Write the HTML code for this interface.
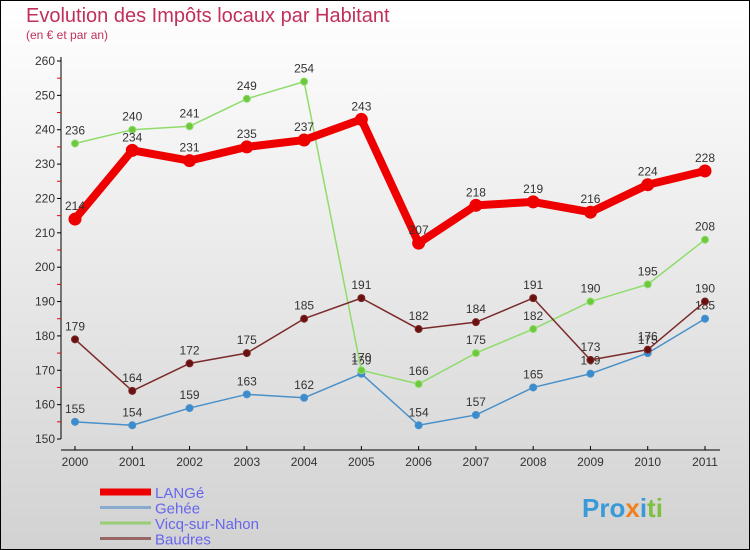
<!DOCTYPE html>
<html><head><meta charset="utf-8"><style>
body{margin:0;width:750px;height:550px;overflow:hidden;font-family:"Liberation Sans",sans-serif}
svg{display:block}
</style></head><body>
<svg id="chart" width="750" height="550" xmlns="http://www.w3.org/2000/svg">
<defs><linearGradient id="bg" x1="0" y1="0" x2="0" y2="1"><stop offset="0" stop-color="#ffffff"/><stop offset="1" stop-color="#d2d2d2"/></linearGradient></defs>
<rect x="0.5" y="0.5" width="749" height="549" fill="url(#bg)" stroke="#000"/>
<text x="26" y="22" font-size="20" fill="#c0305a">Evolution des Impôts locaux par Habitant</text>
<text x="26" y="39" font-size="12" fill="#c0305a">(en € et par an)</text>
<g id="axes"></g><g id="series"></g><g id="legend"></g>
<text x="582" y="517" font-size="26" font-weight="bold" fill="#3a9ad9">Pro<tspan fill="#f08020">x</tspan><tspan fill="#3a9ad9">i</tspan><tspan fill="#80c040">ti</tspan></text>
</svg>
<script>
const years=["2000","2001","2002","2003","2004","2005","2006","2007","2008","2009","2010","2011"];
const yTicks=[150,160,170,180,190,200,210,220,230,240,250,260];
const lange=[214,234,231,235,237,243,207,218,219,216,224,228];
const gehee=[155,154,159,163,162,169,154,157,165,169,175,185];
const vicq=[236,240,241,249,254,170,166,175,182,190,195,208];
const baudres=[179,164,172,175,185,191,182,184,191,173,176,190];
const NS="http://www.w3.org/2000/svg";
const X=i=>75+i*(705-75)/11;
const Y=v=>439-(v-150)*(439-61)/110;
function mk(tag,attrs,parent){const e=document.createElementNS(NS,tag);for(const k in attrs)e.setAttribute(k,attrs[k]);parent.appendChild(e);return e;}
const ax=document.getElementById('axes');
let l=mk('line',{x1:61,y1:57,x2:61,y2:439,stroke:'#000'},ax);


l=mk('line',{x1:61,y1:450,x2:720,y2:450,stroke:'#000'},ax);


yTicks.forEach(v=>{mk('line',{x1:57,y1:Y(v),x2:61,y2:Y(v),stroke:'#000'},ax);
 if(v<260)mk('line',{x1:57,y1:Y(v+5),x2:61,y2:Y(v+5),stroke:'#e00'},ax);
 const t=mk('text',{x:55,y:Y(v)+4,'font-size':12,fill:'#333','text-anchor':'end'},ax);t.textContent=v;
 
 });
years.forEach((y,i)=>{mk('line',{x1:X(i),y1:446,x2:X(i),y2:450,stroke:'#000'},ax);
 const t=mk('text',{x:X(i),y:466,'font-size':12,fill:'#333','text-anchor':'middle'},ax);t.textContent=y;
 
 });
const sg=document.getElementById('series');
function draw(data,color,w,r,name,dot){
 const g=mk('g',{},sg);
 
 
 mk('polyline',{points:data.map((v,i)=>X(i)+','+Y(v)).join(' '),fill:'none',stroke:color,'stroke-width':w,'stroke-linejoin':'round'},g);
 data.forEach((v,i)=>{const c=mk('circle',{cx:X(i),cy:Y(v),r:r,fill:dot,stroke:color,'stroke-width':1},g);
  
  
  const t=mk('text',{x:X(i),y:Y(v)-9,'font-size':12,fill:'#333','text-anchor':'middle'},g);t.textContent=v;
  
  });
}
draw(gehee,'#4a90c8',1.5,3.5,'gehee','#3a8cd0');
draw(vicq,'#8fdc6c',1.5,3.5,'vicq-sur-nahon','#6cc83c');
draw(baudres,'#7a2a2a',1.5,3.5,'baudres','#6a1010');
draw(lange,'#ee0000',8,6,'lange','#ee0000');
const lg=document.getElementById('legend');
[['LANGé','#ee0000',7],['Gehée','#88aacc',3],['Vicq-sur-Nahon','#99cc77',3],['Baudres','#996666',3]].forEach((s,i)=>{
 const y=492+i*15.5;
 const g=mk('g',{},lg);
 
 
 mk('line',{x1:100,y1:y,x2:151,y2:y,stroke:s[1],'stroke-width':s[2]},g);
 const t=mk('text',{x:155,y:y+6,'font-size':15,fill:'#6666ee'},g);t.textContent=s[0];
});
</script>
</body></html>
